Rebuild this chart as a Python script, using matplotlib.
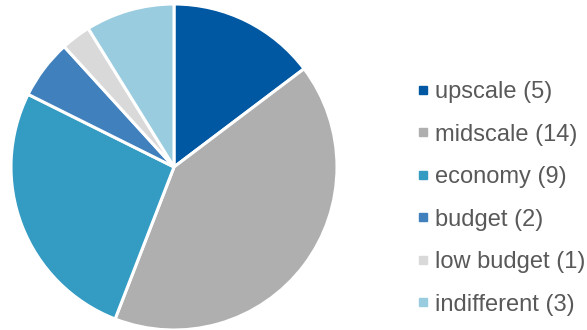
import matplotlib
matplotlib.use('Agg')
from matplotlib import pyplot as plt
from matplotlib.lines import Line2D

categories = ['upscale', 'midscale', 'economy', 'budget', 'low budget', 'indifferent']
counts = [5, 14, 9, 2, 1, 3]
colors = ['#0058A3', '#AFAFAF', '#349CC2', '#3F80BD', '#D9D9D9', '#99CCDF']

plt.rcParams['font.family'] = ['Liberation Sans', 'DejaVu Sans']

fig = plt.figure(figsize=(5.87, 3.30), dpi=100)
# pie axes: center at (174, 167) px, radius ~163 px
ax = fig.add_axes([11 / 587, 0.0, 326 / 587, 326 / 330])
ax.pie(counts, colors=colors, startangle=90, counterclock=False,
       wedgeprops=dict(edgecolor='white', linewidth=2.2))
ax.set_xlim(-1, 1)
ax.set_ylim(-1, 1)
ax.set_aspect('equal')

handles = [Line2D([], [], linestyle='none', marker='s', markersize=5.8,
                  markerfacecolor=c, markeredgecolor=c) for c in colors]
labels = ['%s (%d)' % (n, v) for n, v in zip(categories, counts)]
leg = fig.legend(handles, labels, loc='upper left', bbox_to_anchor=(417 / 587, 1 - 81 / 330),
                 frameon=False, fontsize=17, handlelength=0.5, handletextpad=0.25,
                 labelspacing=0.87, borderpad=0, borderaxespad=0)
for t in leg.get_texts():
    t.set_color('#595959')

fig.savefig('out.png', dpi=100)
